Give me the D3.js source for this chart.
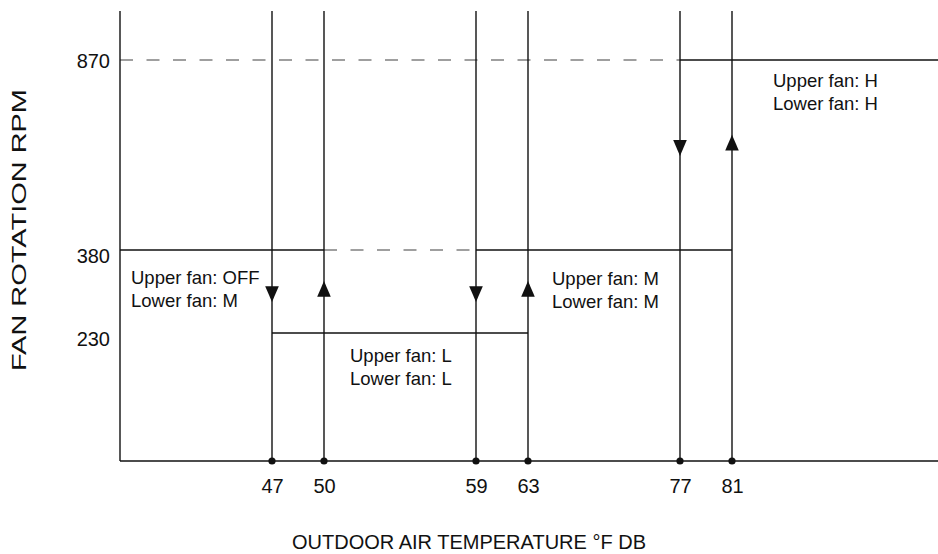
<!DOCTYPE html>
<html>
<head>
<meta charset="utf-8">
<script src="https://cdn.jsdelivr.net/npm/d3@7"></script>
<style>
  html, body { margin: 0; padding: 0; background: #fff; }
  svg { display: block; font-family: "Liberation Sans", Arial, Helvetica, sans-serif; }
</style>
</head>
<body>
<svg id="chart" width="938" height="554"></svg>
<script>
// ---- data ----
const temps = [47, 50, 59, 63, 77, 81];              // switching temperatures (°F DB)
const rpmTicks = [230, 380, 870];                     // fan rotation levels (rpm)
const solidSteps = [                                 // solid operating levels
  { rpm: 380, from: null, to: 50 },
  { rpm: 230, from: 47, to: 63 },
  { rpm: 380, from: 59, to: 81 },
  { rpm: 870, from: 77, to: null }
];
const dashedRefs = [                                 // dashed reference levels
  { rpm: 870, from: null, to: 77 },
  { rpm: 380, from: 50, to: 59 }
];
const arrows = [                                     // direction of switching
  { t: 47, dir: "down", rpm: 305 },
  { t: 50, dir: "up",   rpm: 305 },
  { t: 59, dir: "down", rpm: 305 },
  { t: 63, dir: "up",   rpm: 305 },
  { t: 77, dir: "down", rpm: 650 },
  { t: 81, dir: "up",   rpm: 650 }
];
const modeLabels = [
  { lines: ["Upper fan: OFF", "Lower fan: M"], t: null, rpm: 380 },
  { lines: ["Upper fan: L", "Lower fan: L"],   t: 50,   rpm: 230 },
  { lines: ["Upper fan: M", "Lower fan: M"],   t: 63,   rpm: 380 },
  { lines: ["Upper fan: H", "Lower fan: H"],   t: 81,   rpm: 870 }
];
const xTitle = "OUTDOOR AIR TEMPERATURE °F DB";
const yTitle = "FAN ROTATION RPM";

// ---- layout ----
const plotL = 120, plotR = 938, plotT = 11, plotB = 461;
const svg = d3.select("#chart");

// schematic (non-proportional) axes: piecewise-linear scales
const x = d3.scaleLinear().domain(temps).range([272, 324, 476, 528, 680, 732]);
const y = d3.scaleLinear().domain([0, 230, 380, 870]).range([plotB, 333, 250, 60]);

const ink = "#111";

// dashed reference lines
svg.append("g").selectAll("line").data(dashedRefs).join("line")
  .attr("x1", d => d.from === null ? plotL : x(d.from))
  .attr("x2", d => d.to === null ? plotR : x(d.to))
  .attr("y1", d => y(d.rpm)).attr("y2", d => y(d.rpm))
  .attr("stroke", "#808080").attr("stroke-width", 1.6)
  .attr("stroke-dasharray", "13,13.5");

// vertical switching lines
svg.append("g").selectAll("line").data(temps).join("line")
  .attr("x1", d => x(d)).attr("x2", d => x(d))
  .attr("y1", plotT).attr("y2", plotB)
  .attr("stroke", ink).attr("stroke-width", 1.4);

// solid operating levels
svg.append("g").selectAll("line").data(solidSteps).join("line")
  .attr("x1", d => d.from === null ? plotL : x(d.from))
  .attr("x2", d => d.to === null ? plotR : x(d.to))
  .attr("y1", d => y(d.rpm)).attr("y2", d => y(d.rpm))
  .attr("stroke", ink).attr("stroke-width", 1.4);

// axes
const yAxis = d3.axisLeft(y).tickValues(rpmTicks).tickSize(0).tickPadding(10);
const gy = svg.append("g").attr("transform", `translate(${plotL},0)`).call(yAxis);
gy.select(".domain").attr("d", `M0,${plotT}V${plotB}`).attr("stroke", ink).attr("stroke-width", 1.4);
gy.selectAll("text").attr("font-size", 20).attr("fill", ink)
  .attr("dy", d => d === 870 ? "0.36em" : "0.62em")
  .attr("font-family", "Liberation Sans, Arial, sans-serif");

const xAxis = d3.axisBottom(x).tickValues(temps).tickSize(0).tickPadding(18).tickFormat(d3.format("d"));
const gx = svg.append("g").attr("transform", `translate(0,${plotB})`).call(xAxis);
gx.select(".domain").attr("d", `M${plotL},0H${plotR}`).attr("stroke", ink).attr("stroke-width", 1.4);
gx.selectAll("text").attr("font-size", 20).attr("fill", ink)
  .attr("font-family", "Liberation Sans, Arial, sans-serif");

// dots on the axis
svg.append("g").selectAll("circle").data(temps).join("circle")
  .attr("cx", d => x(d)).attr("cy", plotB).attr("r", 3.6).attr("fill", ink);

// arrows
const tri = d3.symbol().type(d3.symbolTriangle).size(80);
svg.append("g").selectAll("path").data(arrows).join("path")
  .attr("d", tri)
  .attr("transform", d => `translate(${x(d.t)},${y(d.rpm)}) rotate(${d.dir === "down" ? 180 : 0}) scale(1,1.35)`)
  .attr("fill", ink);

// mode labels
const offsets = [[11, 34], [26, 29], [24, 35], [41, 27]];
const lg = svg.append("g").attr("font-size", 18.5).attr("fill", ink);
modeLabels.forEach((m, i) => {
  const px = (m.t === null ? plotL : x(m.t)) + offsets[i][0];
  const py = y(m.rpm) + offsets[i][1];
  const t = lg.append("text").attr("x", px).attr("y", py);
  m.lines.forEach((s, j) => t.append("tspan").attr("x", px).attr("dy", j === 0 ? 0 : 23).text(s));
});

// axis titles
svg.append("text").attr("x", 469).attr("y", 549).attr("text-anchor", "middle")
  .attr("font-size", 20).attr("fill", ink).text(xTitle);
svg.append("text").attr("transform", `translate(26,230) rotate(-90)`).attr("text-anchor", "middle")
  .attr("font-size", 21).attr("fill", ink)
  .attr("textLength", 282).attr("lengthAdjust", "spacingAndGlyphs").text(yTitle);
</script>
</body>
</html>
